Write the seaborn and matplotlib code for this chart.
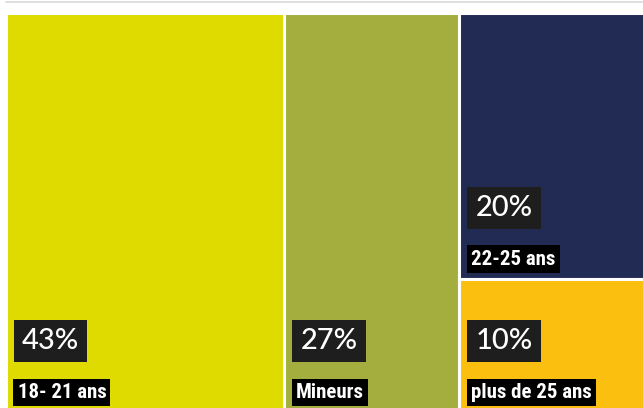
import matplotlib.pyplot as plt
import seaborn as sns
from matplotlib.lines import Line2D

# treemap data: tranches d'age
categories = ['18- 21 ans', 'Mineurs', '22-25 ans', 'plus de 25 ans']
values = [43, 27, 20, 10]
colors = ['#dfdb00', '#a3ae3f', '#212b54', '#fbc00f']
# the two smaller groups share the last column
column_of = [0, 1, 2, 2]

sns.set_theme(style='white')
plt.rcParams['font.family'] = ['Lato', 'DejaVu Sans']

fig = plt.figure(figsize=(6.43, 4.08), dpi=100)
ax = fig.add_axes([5.5 / 643, -4.5 / 408, 648 / 643, 400 / 408])

# slice-and-dice layout from the values
col_totals = {}
for c, v in zip(column_of, values):
    col_totals[c] = col_totals.get(c, 0) + v
col_left = {}
acc = 0
for c in sorted(col_totals):
    col_left[c] = acc
    acc += col_totals[c]

stack = {c: 1.0 for c in col_totals}
rects = []
for cat, v, col, c in zip(categories, values, colors, column_of):
    h = v / col_totals[c]
    bottom = stack[c] - h
    stack[c] = bottom
    ax.bar(col_left[c], h, width=col_totals[c], bottom=bottom, align='edge',
           color=col, edgecolor='white', linewidth=2.2)
    rects.append((cat, v, col_left[c], bottom))

name_font = ['Liberation Sans Narrow', 'DejaVu Sans Condensed', 'Roboto Condensed', 'Roboto']
for cat, v, left, bottom in rects:
    ax.annotate(cat, xy=(left, bottom), xytext=(12, 10.5), textcoords='offset pixels',
                ha='left', va='bottom', color='white', fontsize=15,
                fontweight='bold', family=name_font,
                bbox=dict(boxstyle='square,pad=0.2', fc='black', ec='none'))
    ax.annotate(f'{v}%', xy=(left, bottom), xytext=(16.5, 58.5), textcoords='offset pixels',
                ha='left', va='bottom', color='white', fontsize=21, fontweight='medium',
                bbox=dict(boxstyle='square,pad=0.28', fc='#1e1e1e', ec='none'))

ax.set_xlim(0, 100)
ax.set_ylim(0, 1)
ax.axis('off')

fig.add_artist(Line2D([6 / 643, 1], [1 - 1.5 / 408] * 2, color='#d9d9d9', lw=1.2))

fig.savefig('out.png', dpi=100)
